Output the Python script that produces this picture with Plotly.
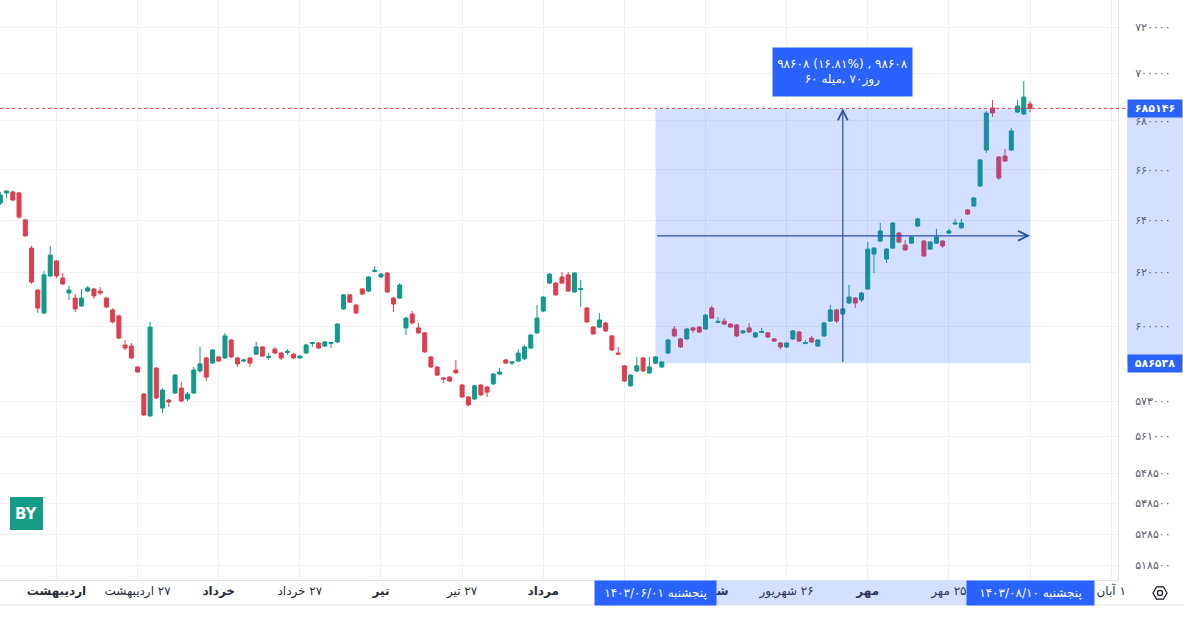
import math
import plotly.graph_objects as go

# ---------------- data ----------------
open_ = [646700, 650700, 651100, 650700, 640100, 629200, 613300, 604800, 618600, 624300,
         617800, 612200, 610300, 607400, 612900, 613700, 612900, 610300, 605900, 603700,
         593100, 592700, 585200, 575600, 568000, 584800, 570700, 573500, 576000, 577700,
         573900, 576000, 583800, 588400, 586600, 588800, 588400, 594900, 588400, 587300,
         588400, 589800, 592400, 588600, 591600, 590200, 590400, 589800, 588400, 590200,
         593600, 593800, 592700, 593600, 594200, 606300, 611500, 607700, 613700, 612900,
         620300, 618200, 619700, 610300, 610300, 599300, 604400, 599300, 597500, 588800,
         585200, 581300, 581600, 584100, 578800, 574600, 573900, 578800, 578100, 579200,
         582700, 587700, 586600, 587300, 588100, 592000, 597500, 605500, 615900, 615900,
         618200, 619000, 612600, 613500, 606600, 599600, 599600, 601100, 596400, 590200,
         585600, 578500, 583800, 588400, 583100, 586538, 585200, 590200, 598900, 595300,
         595300, 599300, 599600, 598900, 606600, 601300, 601800, 600700, 600400, 597500,
         599300, 596000, 597600, 597500, 595300, 593800, 592400, 595300, 597800, 593600,
         595600, 592700, 596400, 601800, 605900, 604400, 608500, 610300, 609600, 613700,
         626900, 631900, 625000, 629200, 635000, 630400, 631100, 637700, 631900, 628800,
         631100, 631900, 635000, 638500, 637000, 644000, 645600, 653500, 668000, 685300,
         665100, 665500, 668000, 683600, 682800, 687000]
close = [649900, 651500, 647900, 641200, 633900, 616300, 606600, 619000, 626500, 618600,
         615600, 613300, 606300, 610300, 614100, 611100, 612200, 607000, 601500, 595600,
         592000, 588400, 583400, 568300, 599600, 574200, 577000, 572800, 582300, 573200,
         575600, 584100, 586300, 581600, 591300, 587300, 596400, 588800, 586300, 587700,
         586600, 592400, 589100, 589000, 590200, 588400, 590800, 588400, 589100, 593100,
         594000, 592000, 594200, 594000, 600700, 611500, 608800, 604800, 611800, 618200,
         620700, 619300, 612600, 608100, 615200, 602900, 601100, 597500, 590600, 585200,
         582300, 580900, 580200, 583100, 574600, 571800, 578500, 575300, 576300, 582700,
         583400, 586600, 587000, 590200, 592400, 596700, 602900, 610700, 619300, 611500,
         615900, 612900, 619700, 613900, 601500, 597100, 602200, 598200, 591300, 589800,
         580200, 582300, 585600, 583800, 585200, 588800, 587000, 594900, 596400, 592400,
         598900, 598500, 597800, 604000, 602900, 601700, 600700, 599600, 596400, 598200,
         597800, 597500, 598000, 596000, 594500, 592400, 593800, 598200, 594500, 594000,
         594200, 594900, 601100, 605900, 601800, 606300, 610700, 608500, 612200, 628800,
         629200, 635800, 628800, 638900, 631500, 628500, 633500, 640500, 626200, 631500,
         633500, 630000, 635800, 638900, 638900, 642400, 648700, 663900, 683200, 683200,
         656700, 663500, 675800, 686100, 689900, 685146]
high = [651100, 651500, 651500, 651100, 640500, 630000, 613700, 620500, 630000, 624600,
        619700, 614800, 611800, 613700, 614800, 614100, 614400, 610700, 606600, 604000,
        594900, 593800, 585600, 576000, 601500, 585200, 577700, 573900, 582700, 579900,
        576300, 585200, 592400, 588800, 591600, 589100, 597500, 595300, 588800, 588100,
        588800, 594200, 592700, 590200, 592400, 590600, 591600, 590200, 589500, 593500,
        594200, 594200, 594500, 594200, 601100, 611800, 611800, 608100, 614100, 618600,
        622400, 619700, 620100, 610700, 615900, 603300, 605500, 601100, 597800, 589100,
        585600, 581600, 582000, 587700, 579200, 574900, 578800, 579200, 578500, 583100,
        584800, 588100, 587300, 591600, 593100, 597100, 607700, 611100, 619700, 616300,
        620100, 620100, 620100, 617100, 607000, 600000, 604800, 601500, 596700, 592400,
        585900, 582700, 588800, 588800, 588800, 589100, 587300, 595300, 600000, 595600,
        599300, 599600, 600000, 604400, 607400, 603300, 602900, 601100, 600700, 598500,
        601100, 597800, 599300, 597800, 595600, 594200, 594200, 598500, 598200, 594900,
        596400, 595300, 601500, 607700, 606300, 606600, 615200, 610700, 612600, 631500,
        629600, 638900, 629200, 639300, 635400, 632300, 633900, 640900, 632300, 631900,
        636600, 632300, 636600, 640500, 640500, 644400, 649100, 664300, 684100, 688700,
        665500, 668400, 677000, 688700, 696700, 688200]
low = [645900, 648700, 647500, 640500, 633500, 615600, 604800, 604400, 618200, 617800,
       615200, 609600, 605100, 607000, 612600, 610000, 611500, 606600, 601100, 595300,
       591300, 588100, 583100, 568000, 567600, 573900, 569000, 571100, 575600, 572800,
       573200, 575600, 583100, 580200, 586300, 587000, 588100, 588400, 585200, 587000,
       585200, 589500, 588800, 587700, 589800, 587700, 589500, 588100, 588100, 589800,
       592400, 591600, 592400, 592000, 593800, 605900, 608500, 604400, 611500, 612600,
       620100, 617800, 612200, 605100, 610000, 596700, 600700, 597100, 590200, 584800,
       582000, 579500, 579900, 582700, 574200, 571400, 573500, 574900, 574600, 578800,
       582300, 586300, 585900, 587000, 587700, 591600, 597100, 605100, 615600, 611100,
       615600, 612600, 612200, 607000, 601100, 596700, 599300, 597800, 590900, 589500,
       579900, 578100, 583400, 583400, 582700, 586300, 584800, 589800, 596000, 592000,
       594900, 597500, 597500, 598500, 602600, 601100, 600400, 599300, 596000, 597100,
       597500, 595600, 597500, 595600, 594200, 591600, 592000, 594900, 594200, 593500,
       593800, 592400, 596000, 601500, 601100, 604000, 608100, 606600, 608800, 613300,
       619700, 631500, 623500, 628800, 631100, 628100, 630800, 637300, 625800, 628500,
       630800, 629200, 634600, 638100, 636600, 642000, 645200, 653100, 666800, 681600,
       655900, 663100, 667600, 683200, 682400, 683600]
bars = list(range(len(close)))

y_ticks = [720000, 700000, 680000, 660000, 640000, 620000, 600000,
           573000, 561000, 548500, 538500, 528500, 518500]

x_tick_idx = [9, 22, 35, 48, 61, 74, 87, 100, 113, 126, 139, 152, 165, 178]
x_tick_month = ["اردیبهشت", "اردیبهشت", "خرداد", "خرداد", "تیر", "تیر", "مرداد",
                "", "شهریور", "شهریور", "مهر", "مهر", "", "آبان"]
x_tick_day = [None, 27, None, 27, None, 27, None, None, None, 26, None, 25, None, 1]

measure_start = 105
measure_end = 165
start_date = "1403/06/01"
end_date = "1403/08/10"
weekday = "پنجشنبه"
measure_days = 70

# ---------------- helpers ----------------
FA = str.maketrans("0123456789", "۰۱۲۳۴۵۶۷۸۹")
LRM = "\u200e"


def fa(v):
    return str(v).translate(FA)


UP = "#12998a"
DN = "#dc3f50"
BLUE = "#2962ff"
TINT = "rgba(41,98,255,0.2)"
LINE = "#2c4fae"
GRID = "#eff1f5"
FONT = "DejaVu Sans"

PW, PH = 1118, 580          # plot area in px
W, H = 1183, 617


def px(xp):
    return xp / PW


def py(yp):
    return (PH - yp) / PH


def ly(v):
    return math.log10(v)


x_text = []
for m, d in zip(x_tick_month, x_tick_day):
    if not m:
        x_text.append("")
    elif d is None:
        x_text.append(f"<b>{m}</b>")
    else:
        x_text.append(f"{m}{LRM} {fa(d)}")

p0 = open_[measure_start]
p1 = close[measure_end]
diff = round(p1 - p0)
pct = diff / p0 * 100
nbars = measure_end - measure_start
mid_bar = (measure_start + measure_end) / 2
mid_price = math.sqrt(p0 * p1)

info_line1 = "\u202d" + f"{fa(diff)} ({fa(f'{pct:.2f}')}%) , {fa(diff)}" + "\u202c"
info_line2 = f"{fa(nbars)} میله{LRM}, {fa(measure_days)}{LRM}روز"

fig = go.Figure()
fig.add_trace(go.Candlestick(
    x=bars, open=open_, high=high, low=low, close=close,
    increasing=dict(line=dict(color=UP, width=1), fillcolor=UP),
    decreasing=dict(line=dict(color=DN, width=1), fillcolor=DN),
    whiskerwidth=0, hoverinfo="skip", showlegend=False,
))

shapes = [
    # measurement box (drawn over the candles)
    dict(type="rect", xref="x", yref="y", x0=measure_start, x1=measure_end,
         y0=p0, y1=p1, fillcolor=TINT, line=dict(width=0), layer="above"),
    # price axis highlight
    dict(type="rect", xref="paper", yref="y", x0=px(1127), x1=px(W), y0=p0, y1=p1,
         fillcolor=TINT, line=dict(width=0), layer="above"),
    # time axis highlight
    dict(type="rect", xref="x", yref="paper", x0=measure_start, x1=measure_end,
         y0=py(605), y1=py(581), fillcolor=TINT, line=dict(width=0), layer="above"),
    # last price dotted line
    dict(type="line", xref="paper", yref="y", x0=0, x1=px(1127), y0=p1, y1=p1,
         line=dict(color="#f23645", width=1, dash="dot"), layer="above"),
    # bottom border of time axis
    dict(type="line", xref="paper", yref="paper", x0=0, x1=px(W), y0=py(605), y1=py(605),
         line=dict(color="#e0e3eb", width=1)),
    # logo
    dict(type="rect", xref="paper", yref="paper", x0=px(10), x1=px(43), y0=py(530), y1=py(497),
         fillcolor="#159c86", line=dict(width=0), layer="above"),
]

# settings icon (hexagon + circle)
cx, cy, r = 1160, 593, 7
pts = []
for k in range(6):
    a = math.radians(60 * k)
    pts.append((px(cx + r * math.cos(a)), py(cy + r * math.sin(a))))
path = "M " + " L ".join(f"{a:.5f},{b:.5f}" for a, b in pts) + " Z"
shapes.append(dict(type="path", xref="paper", yref="paper", path=path,
                   line=dict(color="#131722", width=1.2)))
shapes.append(dict(type="circle", xref="paper", yref="paper",
                   x0=px(cx - 2.6), x1=px(cx + 2.6), y0=py(cy + 2.6), y1=py(cy - 2.6),
                   line=dict(color="#131722", width=1.2)))

annotations = [
    # vertical measure arrow
    dict(x=mid_bar, y=ly(p1), ax=mid_bar, ay=ly(p0), xref="x", yref="y", axref="x", ayref="y",
         text="", showarrow=True, arrowhead=5, arrowsize=1.6, arrowwidth=1.2, arrowcolor=LINE),
    # horizontal measure arrow
    dict(x=measure_end, y=ly(mid_price), ax=measure_start, ay=ly(mid_price), xref="x", yref="y",
         axref="x", ayref="y", text="", showarrow=True, arrowhead=5, arrowsize=1.6,
         arrowwidth=1.2, arrowcolor=LINE),
    # info box
    dict(x=mid_bar, y=ly(p1), xref="x", yref="y", xanchor="center", yanchor="bottom", yshift=11,
         showarrow=False, bgcolor=BLUE, width=131, height=40, borderpad=4,
         font=dict(color="white", size=12, family=FONT),
         text=info_line1 + "<br>" + info_line2),
    # time axis date boxes
    dict(x=measure_start, y=py(593), xref="x", yref="paper", xanchor="center", yanchor="middle",
         showarrow=False, bgcolor=BLUE, width=115, height=18, borderpad=3,
         font=dict(color="white", size=12, family=FONT),
         text=f"{weekday} {fa(start_date)}"),
    dict(x=measure_end, y=py(593), xref="x", yref="paper", xanchor="center", yanchor="middle",
         showarrow=False, bgcolor=BLUE, width=121, height=18, borderpad=3,
         font=dict(color="white", size=12, family=FONT),
         text=f"{weekday} {fa(end_date)}"),
    # price axis boxes
    dict(x=px(1127), y=ly(p1), xref="paper", yref="y", xanchor="left", yanchor="middle",
         showarrow=False, bgcolor=BLUE, width=50, height=13, borderpad=2,
         font=dict(color="white", size=11, family=FONT), text=f"<b>{fa(p1)}</b>"),
    dict(x=px(1127), y=ly(p0), xref="paper", yref="y", xanchor="left", yanchor="middle",
         showarrow=False, bgcolor=BLUE, width=50, height=13, borderpad=2,
         font=dict(color="white", size=11, family=FONT), text=f"<b>{fa(p0)}</b>"),
    # logo text
    dict(x=px(26.5), y=py(513.5), xref="paper", yref="paper", xanchor="center", yanchor="middle",
         showarrow=False, text="<b>BY</b>",
         font=dict(color="white", size=15, family="DejaVu Sans")),
]

# log axis range calibrated: 720000 at 27px from top, ~1640px per natural-log unit
k = 1640.0
top = math.log10(720000) + 27 / (k * math.log(10))
bottom = math.log10(720000) - (PH - 27) / (k * math.log(10))

fig.update_layout(
    width=W, height=H,
    margin=dict(l=0, r=W - PW, t=0, b=H - PH),
    paper_bgcolor="white", plot_bgcolor="white",
    font=dict(family=FONT, color="#131722"),
    showlegend=False, boxgap=0.2, boxgroupgap=0.2,
    shapes=shapes, annotations=annotations,
    xaxis=dict(
        range=[-0.05, 179.1], rangeslider=dict(visible=False),
        tickmode="array", tickvals=x_tick_idx, ticktext=x_text,
        tickfont=dict(size=12, color="#2a2e39", family=FONT),
        showgrid=True, gridcolor=GRID, zeroline=False,
        showline=True, linecolor="#e0e3eb", ticks="", fixedrange=True,
    ),
    yaxis=dict(
        type="log", side="right", range=[bottom, top],
        tickmode="array", tickvals=y_ticks, ticktext=[fa(v) for v in y_ticks],
        tickfont=dict(size=11, color="#5d606b", family=FONT),
        showgrid=True, gridcolor=GRID, zeroline=False,
        showline=True, linecolor="#e0e3eb", ticks="", ticklabelstandoff=14,
        fixedrange=True,
    ),
)

fig.write_html("out.html", config={"displayModeBar": False},
               post_script="document.body.style.margin='0';document.body.style.overflow='hidden';")
